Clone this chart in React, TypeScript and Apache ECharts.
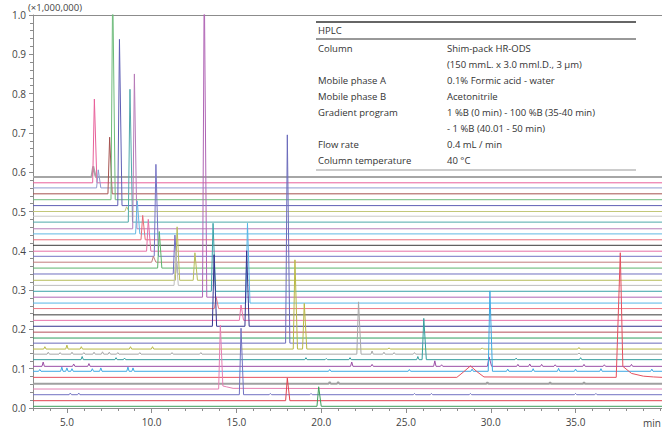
import React, { useEffect, useRef } from "react";
import * as echarts from "echarts";

const X_MIN = 3;
const X_MAX = 40.1;
const xLabelValues = [5, 10, 15, 20, 25, 30, 35];
const xMinorTickValues = [3, 4, 5, 6, 7, 8, 9, 10, 11, 12, 13, 14, 15, 16, 17, 18, 19, 20, 21, 22, 23, 24, 25, 26, 27, 28, 29, 30, 31, 32, 33, 34, 35, 36, 37, 38, 39, 40];

// baseline (offset) of every trace, top to bottom
const traceBaselines = [
  0.588, 0.573, 0.56, 0.545, 0.53, 0.515, 0.5, 0.488, 0.473, 0.456, 0.443, 0.428, 0.414, 0.399,
  0.386, 0.371, 0.356, 0.341, 0.325, 0.312, 0.297, 0.282, 0.267, 0.253, 0.237, 0.223, 0.208,
  0.193, 0.178, 0.165, 0.15, 0.137, 0.123, 0.106, 0.0934, 0.078, 0.0618, 0.0483, 0.0338, 0.0186,
  0.0043,
];

const traceColors = [
  "#a6a6a6", "#e8609a", "#8f9bd0", "#a5524f", "#6dbb7a", "#5f5fb5", "#c2c77a", "#c8c8c8",
  "#4fa9a9", "#b77bb8", "#62b8e3", "#ea6b78", "#3a3a3a", "#e66fa5", "#7573c4", "#c37b7b",
  "#5db36b", "#6f6fc0", "#b7bd5c", "#bdbdbd", "#3aa3a8", "#b065b5", "#55b5e6", "#ec7583",
  "#3a3a3a", "#e873aa", "#34348f", "#b4505a", "#2f9e5e", "#6b6bbb", "#b9b845", "#a8a8a8",
  "#359e9e", "#9a4fa6", "#3fa9e3", "#e5505f", "#a0a0a0", "#e57fb2", "#7272c2", "#e0424f",
  "#3c9e5c",
];

const thickTraces = [0, 36];

// [trace, retention time (min), apex value, right-foot value?, left width?]
const peaks: number[][] = [
  [0, 6.55, 0.615],
  [1, 6.62, 0.786],
  [2, 6.85, 0.606],
  [3, 7.52, 0.689],
  [4, 7.7, 1.08],
  [5, 8.1, 0.938],
  [6, 8.52, 0.512],
  [8, 8.72, 0.811],
  [9, 8.98, 0.85],
  [10, 9.15, 0.527],
  [11, 9.47, 0.49],
  [13, 9.8, 0.48],
  [14, 10.25, 0.62],
  [15, 10.1, 0.386],
  [16, 10.45, 0.449],
  [17, 11.37, 0.44],
  [18, 11.5, 0.461],
  [18, 12.55, 0.395],
  [19, 11.42, 0.4],
  [20, 13.62, 0.47],
  [21, 13.1, 1.1],
  [22, 15.65, 0.47],
  [23, 13.8, 0.283],
  [25, 15.27, 0.262],
  [26, 13.68, 0.39],
  [26, 15.6, 0.4],
  [29, 18.0, 0.695],
  [30, 18.45, 0.377],
  [30, 19.0, 0.266],
  [31, 22.2, 0.27],
  [32, 26.05, 0.228],
  [33, 29.9, 0.13],
  [34, 29.95, 0.298],
  [35, 37.64, 0.395, 0.106, 0.24],
  [37, 14.05, 0.211, 0.056],
  [38, 15.27, 0.203],
  [39, 18.0, 0.076],
  [40, 19.85, 0.054],
];

// small bumps: [trace, time, apex value]
const bumps: number[][] = [
  [30, 3.7, 0.156], [30, 5.0, 0.16], [30, 5.85, 0.156], [30, 8.75, 0.156], [30, 10.05, 0.156],
  [30, 24.0, 0.153], [30, 29.5, 0.153], [30, 35.2, 0.154],
  [31, 3.9, 0.142], [31, 4.6, 0.141], [31, 5.3, 0.142], [31, 6.0, 0.141], [31, 6.6, 0.142],
  [31, 7.1, 0.143], [31, 7.5, 0.142], [31, 8.0, 0.141], [31, 9.3, 0.141], [31, 11.2, 0.141],
  [31, 12.9, 0.141], [31, 23.0, 0.145], [31, 23.7, 0.142], [31, 24.3, 0.141], [31, 25.5, 0.141],
  [31, 35.2, 0.14],
  [32, 5.9, 0.131], [32, 7.9, 0.128], [32, 8.4, 0.127], [32, 19.1, 0.128], [32, 20.3, 0.126],
  [32, 21.7, 0.128], [32, 25.7, 0.131], [32, 31.5, 0.127], [32, 35.3, 0.128],
  [33, 3.6, 0.117], [33, 5.4, 0.112], [33, 6.3, 0.113], [33, 21.8, 0.117], [33, 23.0, 0.111],
  [33, 26.7, 0.12], [33, 27.1, 0.11], [33, 31.6, 0.111], [33, 32.3, 0.112], [33, 33.0, 0.111],
  [33, 33.8, 0.11], [33, 35.5, 0.111], [33, 36.7, 0.11], [33, 38.3, 0.111],
  [34, 3.4, 0.098], [34, 4.7, 0.104], [34, 5.0, 0.102], [34, 5.3, 0.1], [34, 6.5, 0.1],
  [34, 7.0, 0.102], [34, 8.6, 0.104], [34, 8.9, 0.102], [34, 20.5, 0.098], [34, 25.2, 0.098],
  [34, 28.9, 0.099], [34, 31.0, 0.099], [34, 32.5, 0.1], [34, 34.0, 0.101], [34, 35.0, 0.099],
  [34, 36.5, 0.1], [34, 39.5, 0.099],
  [36, 20.5, 0.066], [36, 21.0, 0.066], [36, 29.8, 0.065], [36, 33.5, 0.065], [36, 35.5, 0.065],
  [38, 5.2, 0.038], [38, 5.7, 0.038], [38, 17.0, 0.037], [38, 19.4, 0.037], [38, 25.5, 0.037],
  [38, 26.5, 0.037], [38, 28.8, 0.037], [38, 35.0, 0.037], [38, 36.2, 0.037],
];

// explicit shape points (broad hump and peak tails): [trace, time, value]
const shapePoints: number[][] = [
  [35, 28.0, 0.078], [35, 28.4, 0.092], [35, 28.8, 0.107], [35, 29.2, 0.092], [35, 29.6, 0.079],
  [35, 38.3, 0.088], [35, 39.0, 0.081], [35, 39.6, 0.079],
  [37, 14.4, 0.054], [37, 14.8, 0.05],
];

const tableRows: string[][] = [
  ["Column", "Shim-pack HR-ODS"],
  ["", "(150 mmL. x 3.0 mmI.D., 3 µm)"],
  ["Mobile phase A", "0.1% Formic acid - water"],
  ["Mobile phase B", "Acetonitrile"],
  ["Gradient program", "1 %B (0 min) - 100 %B (35-40 min)"],
  ["", "- 1 %B (40.01 - 50 min)"],
  ["Flow rate", "0.4 mL / min"],
  ["Column temperature", "40 °C"],
];

const FONT = "'Open Sans', 'Noto Sans', sans-serif";
const AXIS_COLOR = "#8c8c8c";
const TEXT_COLOR = "#444";

function buildTrace(i: number): number[][] {
  const base = traceBaselines[i];
  const pts: number[][] = [[X_MIN, base], [X_MAX, base]];
  peaks.filter((p) => p[0] === i).forEach((p) => {
    const t = p[1];
    const wl = p[4] ?? 0.1;
    const rightVal = p[3] ?? base;
    pts.push([t - wl, base], [t, p[2]], [t + 0.15, rightVal]);
  });
  bumps.filter((b) => b[0] === i).forEach((b) => {
    pts.push([b[1] - 0.07, base], [b[1], b[2]], [b[1] + 0.07, base]);
  });
  shapePoints.filter((s) => s[0] === i).forEach((s) => pts.push([s[1], s[2]]));
  pts.sort((a, b) => a[0] - b[0]);
  return pts;
}

export default function App() {
  const ref = useRef<HTMLDivElement>(null);
  useEffect(() => {
    const chart = echarts.init(ref.current!, null, { renderer: "svg" });
    const series = traceBaselines.map((_, i) => ({
      type: "line",
      data: buildTrace(i),
      showSymbol: false,
      symbol: "none",
      silent: true,
      clip: true,
      lineStyle: { color: traceColors[i], width: thickTraces.includes(i) ? 2 : 1 },
      z: 2,
    }));

    const graphic: any[] = [
      {
        type: "text", x: 28, y: 7, z: 100,
        style: { text: "(×1,000,000)", fontSize: 9.5, fontFamily: FONT, fill: TEXT_COLOR, verticalAlign: "middle" },
      },
      {
        type: "text", x: 643, y: 423, z: 100,
        style: { text: "min", fontSize: 10, fontFamily: FONT, fill: TEXT_COLOR, verticalAlign: "middle" },
      },
      { type: "line", z: 100, shape: { x1: 316, y1: 22, x2: 636, y2: 22 }, style: { stroke: "#333", lineWidth: 1.5 } },
      {
        type: "text", x: 318, y: 30.5, z: 100,
        style: { text: "HPLC", fontSize: 9.5, fontFamily: FONT, fill: "#333", verticalAlign: "middle" },
      },
      { type: "line", z: 100, shape: { x1: 316, y1: 39, x2: 636, y2: 39 }, style: { stroke: "#333", lineWidth: 1 } },
      { type: "line", z: 100, shape: { x1: 316, y1: 170, x2: 636, y2: 170 }, style: { stroke: "#999", lineWidth: 1 } },
    ];
    tableRows.forEach((row, r) => {
      const y = 48 + r * 16;
      if (row[0]) {
        graphic.push({
          type: "text", x: 318, y, z: 100,
          style: { text: row[0], fontSize: 9.5, fontFamily: FONT, fill: "#333", verticalAlign: "middle" },
        });
      }
      graphic.push({
        type: "text", x: 447, y, z: 100,
        style: { text: row[1], fontSize: 9.5, fontFamily: FONT, fill: "#333", verticalAlign: "middle" },
      });
    });

    chart.setOption({
      animation: false,
      backgroundColor: "#fff",
      grid: { left: 33, right: 0, top: 15, bottom: 24, containLabel: false },
      xAxis: [
        {
          type: "value", min: X_MIN, max: X_MAX, position: "bottom",
          axisLine: { show: true, onZero: false, lineStyle: { color: AXIS_COLOR } },
          axisTick: { show: true, customValues: xLabelValues, length: 5, lineStyle: { color: AXIS_COLOR } },
          axisLabel: {
            show: true, customValues: xLabelValues, formatter: (v: number) => v.toFixed(1),
            color: TEXT_COLOR, fontSize: 10, fontFamily: FONT, margin: 9,
          },
          splitLine: { show: false },
        },
        {
          type: "value", min: X_MIN, max: X_MAX, position: "bottom",
          axisLine: { show: false, onZero: false },
          axisTick: { show: true, customValues: xMinorTickValues, length: 3, lineStyle: { color: AXIS_COLOR } },
          axisLabel: { show: false },
          splitLine: { show: false },
        },
        {
          type: "value", min: X_MIN, max: X_MAX, position: "top",
          axisLine: { show: true, onZero: false, lineStyle: { color: AXIS_COLOR } },
          axisTick: { show: false },
          axisLabel: { show: false },
          splitLine: { show: false },
        },
      ],
      yAxis: {
        type: "value", min: 0, max: 1, interval: 0.1,
        axisLine: { show: true, onZero: false, lineStyle: { color: AXIS_COLOR } },
        axisTick: { show: true, length: 4, lineStyle: { color: AXIS_COLOR } },
        minorTick: { show: true, splitNumber: 5, length: 3, lineStyle: { color: AXIS_COLOR } },
        axisLabel: {
          formatter: (v: number) => v.toFixed(1), color: TEXT_COLOR, fontSize: 10, fontFamily: FONT, margin: 7,
        },
        splitLine: { show: false },
        minorSplitLine: { show: false },
      },
      series,
      graphic,
    });
    return () => chart.dispose();
  }, []);
  return <div ref={ref} style={{ position: "absolute", left: 0, top: 0, width: 662, height: 432 }} />;
}
